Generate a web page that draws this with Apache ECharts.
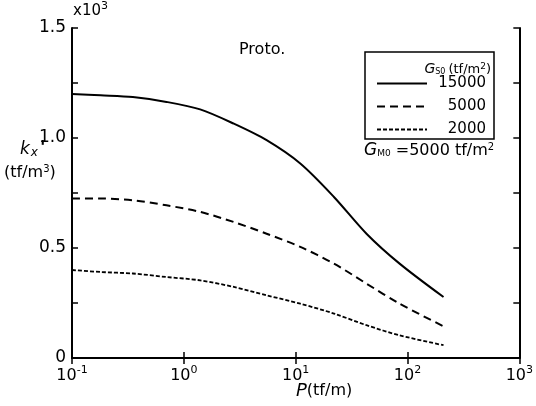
<!DOCTYPE html>
<html><head><meta charset="utf-8">
<script src="https://cdn.jsdelivr.net/npm/echarts@6/dist/echarts.min.js"></script>
<style>html,body{margin:0;padding:0;background:#fff}#c{width:536px;height:406px}</style>
</head><body><div id="c"></div>
<script>
// P (tf/m)
const P = [0.1, 0.18, 0.35, 0.7, 1.4, 2.8, 5.5, 11, 22, 43, 85, 210];
// kx' (x10^3 tf/m^3)
const gs15000 = [1.20, 1.194, 1.186, 1.164, 1.130, 1.065, 0.99, 0.884, 0.732, 0.565, 0.429, 0.277];
const gs5000  = [0.725, 0.725, 0.717, 0.694, 0.664, 0.618, 0.565, 0.505, 0.429, 0.338, 0.247, 0.144];
const gs2000  = [0.40, 0.391, 0.384, 0.368, 0.353, 0.323, 0.285, 0.247, 0.202, 0.149, 0.103, 0.058];
const seriesNames = ['15000', '5000', '2000'];
const yTicks = [0, 0.5, 1.0, 1.5];

const FONT = 'DejaVu Sans';
const chart = echarts.init(document.getElementById('c'), null, {renderer: 'canvas'});
const pair = arr => P.map((p, i) => [p, arr[i]]);
const axisLine = {show: true, lineStyle: {color: '#000', width: 2}};
const tick = {show: true, inside: true, length: 6, lineStyle: {color: '#000', width: 1.5}};

chart.setOption({
  backgroundColor: '#fff',
  animation: false,
  grid: {left: 72, right: 16, top: 28, bottom: 48},
  xAxis: [{
    type: 'log', logBase: 10, min: 0.1, max: 1000,
    axisLine, axisTick: tick, splitLine: {show: false}, minorTick: {show: false},
    axisLabel: {
      color: '#000', margin: 7, fontFamily: FONT,
      formatter: v => '{b|10}{s|' + Math.round(Math.log10(v)) + '}',
      rich: {b: {fontSize: 16, fontFamily: FONT, color: '#000'},
             s: {fontSize: 11, fontFamily: FONT, color: '#000', padding: [0, 0, 10, 0]}}
    }
  }, {
    type: 'log', logBase: 10, min: 0.1, max: 1000, position: 'top',
    axisLine, axisTick: tick, axisLabel: {show: false}, splitLine: {show: false}
  }],
  yAxis: [{
    type: 'value', min: 0, max: 1.5, interval: 0.25,
    axisLine, axisTick: tick, splitLine: {show: false},
    axisLabel: {
      color: '#000', fontSize: 17, fontFamily: FONT, margin: 6,
      formatter: v => {
        const t = yTicks.find(y => Math.abs(y - v) < 1e-6);
        if (t === undefined) return '';
        return t === 0 ? '0' : t.toFixed(1);
      }
    }
  }, {
    type: 'value', min: 0, max: 1.5, interval: 0.25, position: 'right',
    axisLine, axisTick: tick, axisLabel: {show: false}, splitLine: {show: false}
  }],
  legend: {
    orient: 'vertical', left: 365, top: 52,
    data: seriesNames,
    padding: [24, 8, 2, 11],
    itemWidth: 50, itemHeight: 14, itemGap: 8,
    borderColor: '#000', borderWidth: 1.5, borderRadius: 0,
    backgroundColor: '#fff',
    itemStyle: {color: 'rgba(0,0,0,0)', borderColor: 'rgba(0,0,0,0)', borderWidth: 0, opacity: 0},
    formatter: n => '{a|' + n + '}',
    textStyle: {color: '#000', fontFamily: FONT, fontSize: 15, lineHeight: 14,
      rich: {a: {width: 54, align: 'right', fontSize: 15, lineHeight: 14, fontFamily: FONT, color: '#000'}}}
  },
  series: [
    {name: seriesNames[0], type: 'line', data: pair(gs15000), symbol: 'none', smooth: 0.3,
     lineStyle: {color: '#000', width: 2, type: 'solid'}, itemStyle: {color: '#000'}},
    {name: seriesNames[1], type: 'line', data: pair(gs5000), symbol: 'none', smooth: 0.3,
     lineStyle: {color: '#000', width: 2, type: [8, 5]}, itemStyle: {color: '#000'}},
    {name: seriesNames[2], type: 'line', data: pair(gs2000), symbol: 'none', smooth: 0.3,
     lineStyle: {color: '#000', width: 1.8, type: [4, 2]}, itemStyle: {color: '#000'}}
  ],
  graphic: [
    {type: 'text', z: 100, left: 73, top: 1, style: {
      text: '{a|x10}{s|3}', rich: {
        a: {fontSize: 15, fontFamily: FONT, fill: '#000'},
        s: {fontSize: 11, fontFamily: FONT, fill: '#000', padding: [0, 0, 10, 0]}}}},
    {type: 'text', z: 100, left: 239, top: 42, style: {text: 'Proto.', fontSize: 16, fontFamily: FONT, fill: '#000'}},
    {type: 'text', z: 100, left: 20, top: 141, style: {
      text: '{k|k}{x|x}', rich: {
        k: {fontSize: 17, fontStyle: 'italic', fontFamily: FONT, fill: '#000'},
        x: {fontSize: 12, fontStyle: 'italic', fontFamily: FONT, fill: '#000', padding: [6, 0, 0, 1]}}}},
    {type: 'text', z: 100, left: 40, top: 139, style: {text: "'", fontSize: 18, fontWeight: 'bold', fontFamily: FONT, fill: '#000'}},
    {type: 'text', z: 100, left: 4, top: 164, style: {
      text: '{a|(tf/m}{s|3}{a|)}', rich: {
        a: {fontSize: 16, fontFamily: FONT, fill: '#000'},
        s: {fontSize: 10, fontFamily: FONT, fill: '#000', padding: [0, 0, 8, 0]}}}},
    {type: 'text', z: 100, left: 296, top: 382, style: {
      text: '{p|P}{a|(tf/m)}', rich: {
        p: {fontSize: 18, fontStyle: 'italic', fontFamily: FONT, fill: '#000'},
        a: {fontSize: 16, fontFamily: FONT, fill: '#000'}}}},
    {type: 'text', z: 100, right: 45, top: 62, style: {
      text: '{g|G}{s|S0}{a|(tf/m}{t|2}{a|)}', rich: {
        g: {fontSize: 14, fontStyle: 'italic', fontFamily: FONT, fill: '#000'},
        s: {fontSize: 8, fontFamily: FONT, fill: '#000', padding: [4, 3, 0, 0]},
        a: {fontSize: 13, fontFamily: FONT, fill: '#000'},
        t: {fontSize: 9, fontFamily: FONT, fill: '#000', padding: [0, 0, 6, 0]}}}},
    {type: 'text', z: 100, left: 364, top: 142, style: {
      text: '{g|G}{s|M0}{a| =5000 tf/m}{t|2}', rich: {
        g: {fontSize: 17, fontStyle: 'italic', fontFamily: FONT, fill: '#000'},
        s: {fontSize: 9, fontFamily: FONT, fill: '#000', padding: [6, 0, 0, 0]},
        a: {fontSize: 16, fontFamily: FONT, fill: '#000'},
        t: {fontSize: 10, fontFamily: FONT, fill: '#000', padding: [0, 0, 8, 0]}}}}
  ]
});
</script></body></html>
